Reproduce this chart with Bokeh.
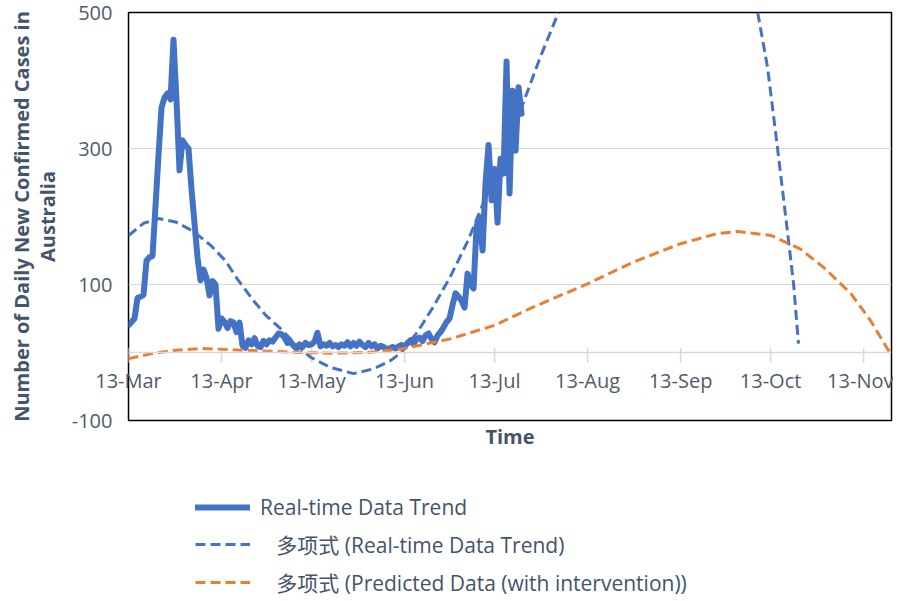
import numpy as np
from bokeh.plotting import figure
from bokeh.layouts import column
from bokeh.models import FixedTicker, Legend, LegendItem, Span, LinearAxis
from bokeh.embed import file_html
from bokeh.resources import INLINE

# ---- data (x = days since 13-Mar) ----
tick_days = [0, 31, 61, 92, 122, 153, 184, 214, 245]
tick_labels = ["13-Mar", "13-Apr", "13-May", "13-Jun", "13-Jul", "13-Aug", "13-Sep", "13-Oct", "13-Nov"]
y_ticks = [-100, 100, 300, 500]
y_tick_labels = ["-100", "100", "300", "500"]

daily_cases = [40, 45, 50, 80, 82, 85, 135, 140, 142, 215,
               290, 360, 375, 381, 372, 460, 370, 268, 312, 305,
               300, 240, 190, 140, 106, 122, 110, 84, 105, 100,
               35, 50, 45, 36, 46, 44, 30, 44, 10, 7,
               18, 12, 21, 10, 8, 17, 12, 18, 16, 22,
               28, 27, 22, 14, 16, 10, 6, 12, 8, 14,
               11, 12, 16, 29, 9, 12, 10, 14, 9, 11,
               8, 12, 10, 15, 9, 14, 10, 16, 11, 8,
               14, 9, 12, 6, 10, 8, 5, 6, 8, 6,
               9, 11, 8, 14, 18, 12, 20, 22, 17, 25,
               28, 20, 15, 25, 30, 37, 45, 50, 70, 87,
               82, 76, 66, 116, 100, 94, 185, 199, 150, 250,
               305, 224, 270, 191, 285, 263, 428, 234, 385, 297,
               390, 351]
daily_days = list(range(len(daily_cases)))

trend_up_days = [0, 5, 10, 15.7, 21.3, 27.3, 32.3, 36.3, 41.7, 45.7, 50.7, 55.7, 60.7,
                 67.3, 75, 81.7, 87.3, 90.7, 96.3, 101.7, 107.3, 113, 118.3, 124,
                 129.7, 134, 137.3, 143.3]
trend_up_vals = [172, 190, 197, 192, 179, 158, 135, 108, 76, 55, 35, 12, -7,
                 -22, -31, -24, -12, -1, 30, 68, 112, 163, 220, 282,
                 345, 396, 435, 500]
trend_down_days = [209.7, 213, 216.3, 219.7, 221.7, 223.3]
trend_down_vals = [500, 419, 301, 175, 99, 13]

pred_days = [0, 7.3, 15, 24, 35, 46.3, 57.3, 68.3, 79.7, 90.7, 96.3, 101.7, 107.3,
             122, 135, 153, 168.3, 184, 196.3, 203, 214.3, 224, 231.7, 240.7, 247.3, 253.7]
pred_vals = [-9, -2, 3, 6, 4, 2, 0, -1, 0, 5, 10, 15, 20,
             40, 67, 101, 133, 160, 175, 178, 172, 152, 125, 87, 47, 0]

legend_labels = ["Real-time Data Trend",
                 "多项式 (Real-time Data Trend)",
                 "多项式 (Predicted Data (with intervention))"]

BLUE = "#4472C4"
ORANGE = "#ED7D31"
TXT = "#44546A"
TICK = "#4F5B6B"
FONT = "'Open Sans', 'Noto Sans CJK SC', sans-serif"

p = figure(width=893, height=460, output_backend="svg", toolbar_location=None,
           x_range=(0, 254.3), y_range=(-100, 500),
           min_border_left=128, min_border_right=2, min_border_top=12, min_border_bottom=40)
p.outline_line_color = "#000000"
p.outline_line_width = 1.5
p.background_fill_color = "white"
p.border_fill_color = "white"

p.xgrid.visible = False
p.ygrid.ticker = FixedTicker(ticks=y_ticks)
p.ygrid.grid_line_color = "#D9D9D9"
p.ygrid.grid_line_width = 1.2

yax = p.yaxis[0]
yax.ticker = FixedTicker(ticks=y_ticks)
yax.major_label_overrides = {t: l for t, l in zip(y_ticks, y_tick_labels)}
yax.axis_line_color = None
yax.major_tick_line_color = None
yax.minor_tick_line_color = None
yax.major_tick_out = 0
yax.major_tick_in = 0
yax.major_label_standoff = 16
yax.major_label_text_font = FONT
yax.major_label_text_font_size = "20px"
yax.major_label_text_color = TICK
yax.axis_label = "Australia"
yax.axis_label_text_font = FONT
yax.axis_label_text_font_style = "bold"
yax.axis_label_text_font_size = "20px"
yax.axis_label_text_color = TXT
yax.axis_label_standoff = 8

yax2 = LinearAxis(ticker=FixedTicker(ticks=[]), axis_line_color=None,
                  major_tick_line_color=None, minor_tick_line_color=None,
                  major_tick_out=0, major_tick_in=0, major_label_standoff=0,
                  axis_label="Number of Daily New Confirmed Cases in",
                  axis_label_text_font=FONT, axis_label_text_font_style="bold",
                  axis_label_text_font_size="20px", axis_label_text_color=TXT,
                  axis_label_standoff=-4)
p.add_layout(yax2, "left")

xax = p.xaxis[0]
xax.ticker = FixedTicker(ticks=tick_days)
xax.major_label_overrides = {d: l for d, l in zip(tick_days, tick_labels)}
xax.axis_line_color = None
xax.major_tick_line_color = None
xax.minor_tick_line_color = None
xax.major_tick_out = 0
xax.major_tick_in = 0
xax.major_label_standoff = -54
xax.major_label_text_font = FONT
xax.major_label_text_font_size = "20px"
xax.major_label_text_color = TICK
xax.axis_label = "Time"
xax.axis_label_text_font = FONT
xax.axis_label_text_font_style = "bold"
xax.axis_label_text_font_size = "20px"
xax.axis_label_text_color = TXT
xax.axis_label_standoff = 26

p.add_layout(Span(location=0, dimension="width", line_color="#D9D9D9", line_width=1.5))
p.segment(x0=tick_days, x1=tick_days, y0=[7] * len(tick_days), y1=[-15] * len(tick_days),
          line_color="#D9D9D9", line_width=1.5)

line_daily = dict(line_color=BLUE, line_width=6, line_join="round", line_cap="round")
line_trend = dict(line_color=BLUE, line_width=3, line_dash="10 5")
line_pred = dict(line_color=ORANGE, line_width=3, line_dash="10 5")

p.line(daily_days, daily_cases, **line_daily)
p.line(trend_up_days, trend_up_vals, **line_trend)
p.line(trend_down_days, trend_down_vals, **line_trend)
p.line(pred_days, pred_vals, **line_pred)

# ---- legend panel below the chart (same series, drawn outside its view) ----
lg = figure(width=893, height=140, output_backend="svg", toolbar_location=None,
            x_range=(0, 254.3), y_range=(10000, 10001), min_border=0)
lg.axis.visible = False
lg.grid.visible = False
lg.outline_line_color = None
lg.background_fill_color = "white"
lg.border_fill_color = "white"
r1 = lg.line(daily_days, daily_cases, **line_daily)
r2 = lg.line(trend_up_days, trend_up_vals, **line_trend)
r3 = lg.line(pred_days, pred_vals, **line_pred)

NB = "\u00a0\u00a0\u00a0"
legend = Legend(items=[
    LegendItem(label=legend_labels[0], renderers=[r1]),
    LegendItem(label=NB + legend_labels[1], renderers=[r2]),
    LegendItem(label=NB + legend_labels[2], renderers=[r3]),
], location=(67, 3))
legend.border_line_color = None
legend.background_fill_alpha = 0
legend.label_text_font = FONT
legend.label_text_font_size = "21px"
legend.label_text_color = TXT
legend.glyph_width = 55
legend.glyph_height = 26
legend.label_height = 26
legend.spacing = 8
legend.padding = 0
legend.margin = 0
legend.label_standoff = 10
lg.add_layout(legend, "center")

layout = column(p, lg, spacing=0)
open("out.html", "w").write(file_html(layout, INLINE))
